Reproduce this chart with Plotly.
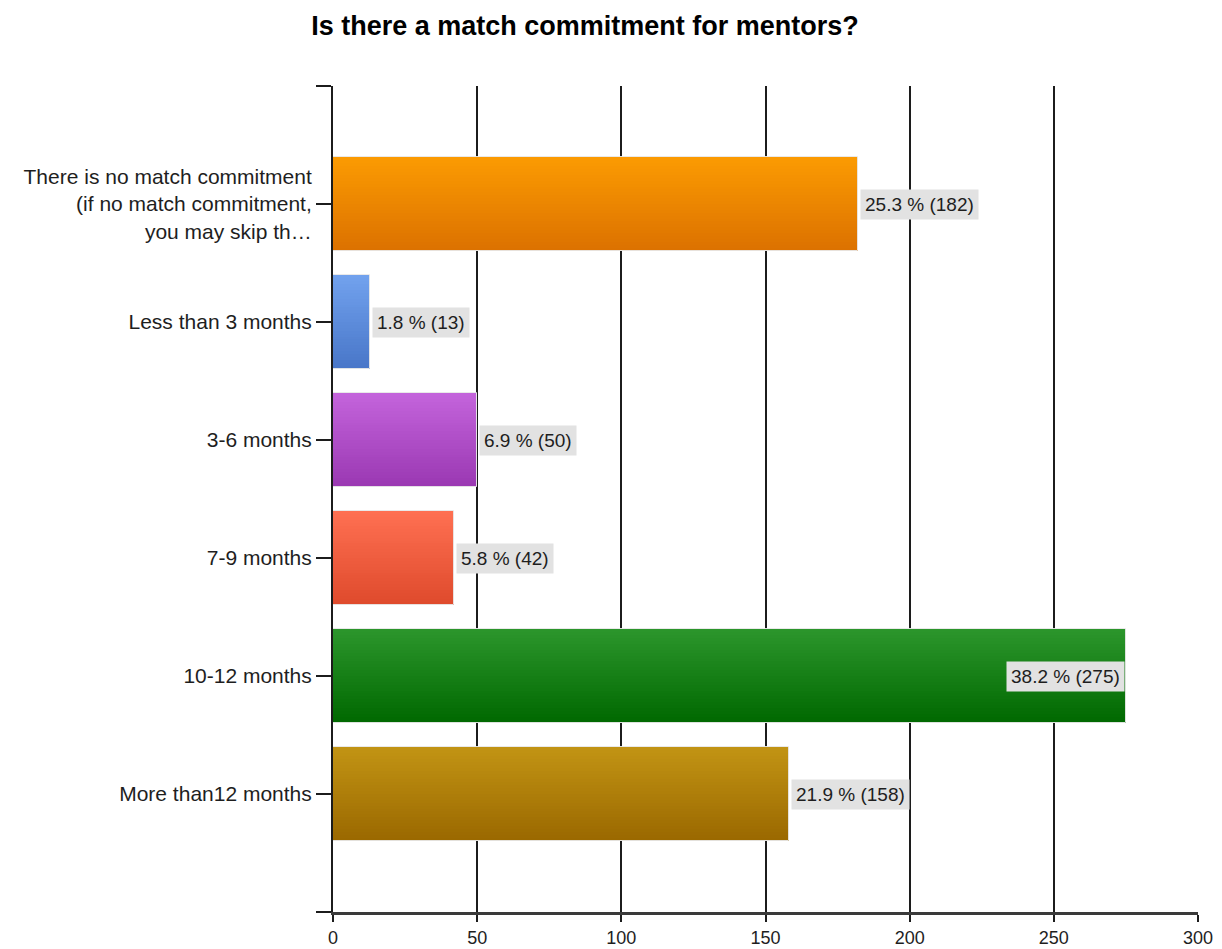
import plotly.graph_objects as go

# Survey answers and counts
categories = [
    "There is no match commitment<br>(if no match commitment,<br>you may skip th…",
    "Less than 3 months",
    "3-6 months",
    "7-9 months",
    "10-12 months",
    "More than12 months",
]
counts = [182, 13, 50, 42, 275, 158]
percents = [25.3, 1.8, 6.9, 5.8, 38.2, 21.9]
x_ticks = [0, 50, 100, 150, 200, 250, 300]

# Gradient end colours for each bar (top edge, bottom edge)
top_colors = ["#fc9b02", "#72a2ee", "#c464dc", "#ff7052", "#2c962c", "#c29414"]
bottom_colors = ["#db7100", "#4876c8", "#9a38b2", "#de4a2c", "#006800", "#9a6800"]

positions = list(range(1, len(categories) + 1))
bar_width = 0.79
n_strips = 32

FONT = "Liberation Sans, Arial, sans-serif"


def hex_to_rgb(h):
    h = h.lstrip("#")
    return tuple(int(h[i:i + 2], 16) for i in (0, 2, 4))


def blend(c1, c2, t):
    a, b = hex_to_rgb(c1), hex_to_rgb(c2)
    return "rgb({},{},{})".format(*[round(a[k] + (b[k] - a[k]) * t) for k in range(3)])


fig = go.Figure()

# Each bar is painted as a stack of thin horizontal strips to give a vertical gradient
step = bar_width / n_strips
for i in range(n_strips):
    t = (i + 0.5) / n_strips
    off = -bar_width / 2 + i * step
    w = step * 1.15 if i < n_strips - 1 else step
    fig.add_trace(go.Bar(
        x=counts, y=positions, orientation="h",
        width=w, offset=off,
        marker=dict(color=[blend(top_colors[k], bottom_colors[k], t) for k in range(len(counts))],
                    line=dict(width=0)),
        hoverinfo="skip", showlegend=False,
    ))

# Light rim around each bar
fig.add_trace(go.Bar(
    x=counts, y=positions, orientation="h", width=bar_width,
    marker=dict(color="rgba(0,0,0,0)", line=dict(color="rgba(232,232,232,0.95)", width=1)),
    hoverinfo="skip", showlegend=False,
))

# Value labels on grey boxes
for k, (c, p) in enumerate(zip(counts, percents)):
    inside = c >= 260
    fig.add_annotation(
        x=c, y=positions[k], xref="x", yref="y",
        text=f"{p} % ({c})",
        showarrow=False,
        xanchor="right" if inside else "left",
        xshift=-1 if inside else 2,
        bgcolor="#e2e2e2",
        borderpad=4,
        font=dict(family=FONT, size=19, color="#1e1e1e"),
    )

fig.update_layout(
    width=1222, height=949,
    margin=dict(l=333, r=24, t=86, b=37, autoexpand=False),
    paper_bgcolor="white", plot_bgcolor="white",
    barmode="overlay", bargap=0,
    showlegend=False,
    title=dict(
        text="<b>Is there a match commitment for mentors?</b>",
        x=585 / 1222, xanchor="center", xref="container",
        y=1 - 26 / 949, yanchor="middle", yref="container",
        font=dict(family=FONT, size=27, color="#000000"),
    ),
    xaxis=dict(
        range=[0, 300], tickvals=x_ticks, ticktext=[str(v) for v in x_ticks],
        showgrid=True, gridcolor="#1c1c1c", gridwidth=2,
        zeroline=False, automargin=False,
        showline=True, linecolor="#3a3a3a", linewidth=3,
        ticks="outside", ticklen=7, tickcolor="#1c1c1c", tickwidth=2,
        tickfont=dict(family=FONT, size=18, color="#1e1e1e"),
        fixedrange=True,
    ),
    yaxis=dict(
        range=[7, 0],
        tickvals=[0] + positions + [7],
        ticktext=[""] + categories + [""],
        showgrid=False, zeroline=False, automargin=False,
        showline=True, linecolor="#1c1c1c", linewidth=2,
        ticks="outside", ticklen=15, tickcolor="#1c1c1c", tickwidth=2,
        tickfont=dict(family=FONT, size=21, color="#1e1e1e"),
        fixedrange=True,
    ),
)

fig.write_html("out.html")
